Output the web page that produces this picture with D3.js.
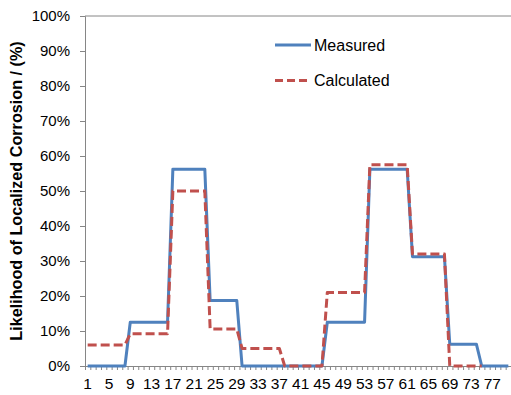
<!DOCTYPE html>
<html><head><meta charset="utf-8">
<script src="https://cdn.jsdelivr.net/npm/d3@7"></script>
<style>body{margin:0;background:#fff;}svg{display:block;}text{font-family:"Liberation Sans",Arial,sans-serif;}</style>
</head><body>
<svg id="c" width="511" height="395"></svg>
<script>
const categories = d3.range(1, 81);
const measured = [
  0,0,0,0,0,0,0,0,
  12.5,12.5,12.5,12.5,12.5,12.5,12.5,12.5,
  56.25,56.25,56.25,56.25,56.25,56.25,56.25,
  18.75,18.75,18.75,18.75,18.75,18.75,
  0,0,0,0,0,0,0,0,0,0,0,0,0,0,0,0,
  12.5,12.5,12.5,12.5,12.5,12.5,12.5,12.5,
  56.25,56.25,56.25,56.25,56.25,56.25,56.25,56.25,
  31.25,31.25,31.25,31.25,31.25,31.25,31.25,
  6.25,6.25,6.25,6.25,6.25,6.25,
  0,0,0,0,0,0
];
const calculated = [
  6,6,6,6,6,6,6,6,
  9.2,9.2,9.2,9.2,9.2,9.2,9.2,9.2,
  50,50,50,50,50,50,50,
  10.6,10.6,10.6,10.6,10.6,10.6,
  5,5,5,5,5,5,5,5,
  0,0,0,0,0,0,0,0,
  21,21,21,21,21,21,21,21,
  57.5,57.5,57.5,57.5,57.5,57.5,57.5,57.5,
  32,32,32,32,32,32,32,
  0,0,0,0,0,0,0,
  null,null,null,null,null
];
const yTicks = d3.range(0, 101, 10);
const xLabelCats = categories.filter(c => (c - 1) % 4 === 0);
const seriesNames = ["Measured", "Calculated"];
const colors = ["#4F81BD", "#C0504D"];

const svg = d3.select("#c");
const L = 85, R = 511, T = 16, B = 366;
const x = d3.scaleBand().domain(categories).range([L, R]).padding(0);
const xb = d3.scaleLinear().domain([0, categories.length]).range([L, R]);
const y = d3.scaleLinear().domain([0, 100]).range([B, T]);
const cx = c => x(c) + x.bandwidth() / 2;
const axisColor = "#868686";

// top border
svg.append("line").attr("x1", L).attr("x2", R).attr("y1", y(100)).attr("y2", y(100))
  .attr("stroke", axisColor).attr("stroke-width", 1);

// y axis
const ya = svg.append("g").attr("transform", `translate(${L},0)`)
  .call(d3.axisLeft(y).tickValues(yTicks).tickFormat(d => d + "%").tickSize(5).tickPadding(10));
ya.select(".domain").attr("stroke", axisColor);
ya.selectAll(".tick line").attr("stroke", axisColor);
ya.selectAll("text").attr("font-size", 15).attr("fill", "#000")
  .attr("font-family", "Liberation Sans, Arial, sans-serif");

// x axis ticks at boundaries
const xt = svg.append("g").attr("transform", `translate(0,${B})`)
  .call(d3.axisBottom(xb).tickValues(d3.range(0, categories.length + 1)).tickFormat("").tickSize(4).tickSizeOuter(0));
xt.select(".domain").attr("stroke", axisColor);
xt.selectAll(".tick line").attr("stroke", axisColor);
// x labels
const xl = svg.append("g").attr("transform", `translate(0,${B})`)
  .call(d3.axisBottom(x).tickValues(xLabelCats).tickSize(0).tickPadding(12));
xl.select(".domain").remove();
xl.selectAll("text").attr("font-size", 15.5).attr("fill", "#000")
  .attr("font-family", "Liberation Sans, Arial, sans-serif");

// y title
svg.append("text").attr("transform", `translate(22,${(T + B) / 2}) rotate(-90)`)
  .attr("text-anchor", "middle").attr("font-size", 16.2).attr("font-weight", "bold")
  .text("Likelihood of Localized Corrosion / (%)");

// lines
const line = d3.line().defined(d => d[1] !== null).x(d => cx(d[0])).y(d => y(d[1]));
svg.append("path").datum(categories.map((c, i) => [c, measured[i]]))
  .attr("d", line).attr("fill", "none").attr("stroke", colors[0]).attr("stroke-width", 3)
  .attr("stroke-linejoin", "round");
svg.append("path").datum(categories.map((c, i) => [c, calculated[i]]))
  .attr("d", line).attr("fill", "none").attr("stroke", colors[1]).attr("stroke-width", 3)
  .attr("stroke-dasharray", "9,4").attr("stroke-linejoin", "round");

// legend
const lg = svg.append("g");
seriesNames.forEach((n, i) => {
  const yy = 45 + i * 35.5;
  lg.append("line").attr("x1", 275).attr("x2", i ? 308 : 311).attr("y1", yy).attr("y2", yy)
    .attr("stroke", colors[i]).attr("stroke-width", 3)
    .attr("stroke-dasharray", i ? "8,4" : null);
  lg.append("text").attr("x", 314).attr("y", yy + 5.5).attr("font-size", 16).text(n);
});
</script>
</body></html>
